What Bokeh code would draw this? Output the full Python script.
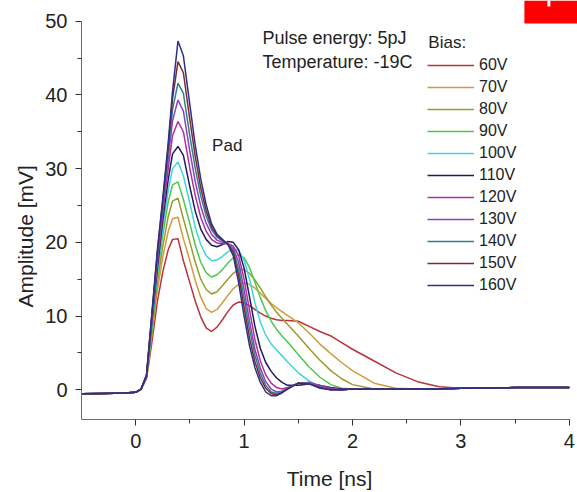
from bokeh.plotting import figure
from bokeh.models import Label, Legend, LegendItem, BoxAnnotation, Range1d, FixedTicker, Title
from bokeh.embed import file_html
from bokeh.resources import INLINE

# ---------------- data ----------------
time_ns = [-0.5, -0.3, -0.1, 0.0, 0.05, 0.1, 0.15, 0.2, 0.25, 0.3, 0.34, 0.39,
           0.44, 0.5, 0.55, 0.6, 0.65, 0.7, 0.75, 0.8, 0.85, 0.9,
           0.95, 1.0, 1.05, 1.1, 1.15, 1.2, 1.25, 1.3, 1.35, 1.4,
           1.5, 1.6, 1.7, 1.8, 1.9, 2.0, 2.2, 2.4, 2.6, 2.8, 3.0, 3.5, 4.0]

v60 = [-0.55, -0.5, -0.45, -0.35, 0.1, 1.5, 6.5, 12.0, 16.0, 19.0, 20.4, 20.5,
       17.5, 14.5, 12.0, 9.9, 8.4, 7.9, 8.5, 9.5, 10.6, 11.5,
       11.9, 11.8, 11.4, 10.9, 10.4, 10.0, 9.7, 9.5, 9.4, 9.4,
       9.3, 8.6, 7.9, 7.3, 6.4, 5.5, 3.9, 2.3, 1.1, 0.4, 0.2, 0.3, 0.3]
v70 = [-0.55, -0.5, -0.45, -0.35, 0.1, 1.6, 7.5, 13.5, 18.0, 21.5, 23.2, 23.4,
       20.5, 17.5, 14.8, 12.6, 11.0, 10.5, 10.9, 11.8, 12.8, 13.7,
       14.3, 14.5, 14.3, 13.8, 13.1, 12.4, 11.7, 11.1, 10.6, 10.1,
       9.1, 7.7, 6.2, 4.9, 3.7, 2.6, 0.9, 0.2, 0.1, 0.1, 0.2, 0.3, 0.3]
v80 = [-0.55, -0.5, -0.45, -0.35, 0.1, 1.7, 8.0, 14.5, 19.5, 23.5, 25.6, 26.0,
       23.2, 20.0, 17.3, 15.0, 13.6, 13.0, 13.3, 14.1, 15.0, 15.8,
       16.3, 16.3, 15.8, 14.9, 13.8, 12.6, 11.5, 10.5, 9.7, 8.9,
       7.3, 5.6, 4.0, 2.6, 1.5, 0.7, 0.1, 0.1, 0.1, 0.1, 0.2, 0.3, 0.3]
v90 = [-0.55, -0.5, -0.45, -0.35, 0.1, 1.7, 8.5, 15.5, 21.0, 25.5, 27.8, 28.2,
       25.8, 22.5, 19.6, 17.3, 15.9, 15.3, 15.6, 16.3, 17.2, 17.9,
       18.3, 17.9, 16.6, 14.6, 12.5, 10.7, 9.3, 8.2, 7.3, 6.5,
       4.8, 3.1, 1.7, 0.7, 0.2, 0.1, 0.1, 0.1, 0.1, 0.1, 0.2, 0.3, 0.3]
v100 = [-0.55, -0.5, -0.45, -0.35, 0.1, 1.8, 9.0, 16.0, 22.0, 27.0, 30.0, 30.9,
        29.0, 25.3, 22.0, 19.7, 18.2, 17.5, 17.6, 18.1, 18.7, 19.1,
        18.9, 17.6, 15.0, 11.8, 9.2, 7.4, 6.2, 5.4, 4.6, 3.8,
        2.3, 1.2, 0.4, 0.1, 0.0, 0.1, 0.1, 0.1, 0.1, 0.1, 0.2, 0.3, 0.3]
v110 = [-0.55, -0.5, -0.45, -0.35, 0.1, 1.8, 9.3, 16.5, 23.0, 28.5, 32.0, 33.0,
        31.8, 27.5, 24.2, 21.8, 20.4, 19.6, 19.4, 19.7, 20.1, 20.0,
        19.0, 16.5, 12.6, 8.6, 5.6, 3.7, 2.5, 1.6, 1.0, 0.6,
        0.6, 0.8, 0.6, 0.3, 0.1, 0.1, 0.1, 0.1, 0.1, 0.1, 0.2, 0.3, 0.3]
v120 = [-0.55, -0.5, -0.45, -0.35, 0.1, 1.9, 9.6, 17.2, 24.0, 30.0, 34.5, 36.4,
        35.0, 30.0, 26.3, 23.4, 21.5, 20.4, 19.9, 19.8, 19.8, 19.5,
        18.2, 15.0, 10.8, 6.8, 3.9, 2.0, 0.9, 0.3, 0.1, 0.3,
        0.9, 1.0, 0.6, 0.2, 0.0, 0.1, 0.1, 0.1, 0.1, 0.1, 0.2, 0.3, 0.3]
v130 = [-0.55, -0.5, -0.45, -0.35, 0.1, 1.9, 9.9, 17.8, 24.8, 31.3, 36.5, 39.3,
        37.8, 32.3, 28.2, 24.9, 22.6, 21.1, 20.3, 20.0, 19.8, 19.2,
        17.3, 13.6, 9.3, 5.5, 2.9, 1.1, 0.1, -0.3, -0.2, 0.2,
        0.9, 1.0, 0.5, 0.1, 0.0, 0.1, 0.1, 0.1, 0.1, 0.1, 0.2, 0.3, 0.3]
v140 = [-0.55, -0.5, -0.45, -0.35, 0.1, 2.0, 10.1, 18.2, 25.3, 32.2, 38.0, 41.6,
        40.2, 34.4, 30.0, 26.3, 23.6, 21.7, 20.7, 20.2, 19.8, 18.9,
        16.4, 12.4, 8.2, 4.7, 2.2, 0.6, -0.3, -0.5, -0.3, 0.2,
        0.9, 0.9, 0.4, 0.0, 0.0, 0.1, 0.1, 0.1, 0.1, 0.1, 0.2, 0.3, 0.3]
v150 = [-0.55, -0.5, -0.45, -0.35, 0.1, 2.0, 10.3, 18.6, 25.7, 33.0, 39.5, 44.5,
        43.0, 36.6, 31.6, 27.4, 24.3, 22.1, 20.9, 20.3, 19.8, 18.6,
        15.5, 11.2, 7.0, 3.8, 1.6, 0.2, -0.5, -0.7, -0.4, 0.1,
        0.9, 0.8, 0.3, 0.0, 0.0, 0.1, 0.1, 0.1, 0.1, 0.1, 0.2, 0.3, 0.3]
v160 = [-0.55, -0.5, -0.45, -0.35, 0.1, 2.0, 10.5, 19.0, 26.0, 33.5, 40.5, 47.3,
        45.3, 38.6, 33.1, 28.6, 25.1, 22.5, 21.1, 20.4, 19.7, 18.2,
        14.5, 10.0, 6.0, 3.0, 1.0, -0.3, -0.8, -0.8, -0.4, 0.1,
        0.9, 0.8, 0.2, 0.0, 0.0, 0.1, 0.1, 0.1, 0.1, 0.1, 0.2, 0.3, 0.3]

bias_labels = ["60V", "70V", "80V", "90V", "100V", "110V",
               "120V", "130V", "140V", "150V", "160V"]
series = [v60, v70, v80, v90, v100, v110, v120, v130, v140, v150, v160]
colors = ["#b8343c", "#d39a3c", "#9c9a2c", "#4cc84c", "#3fd5e0", "#1c1c5e",
          "#b2309a", "#8a40c4", "#2f8088", "#7c2a2e", "#2e2e8c"]

x_ticks = [0, 1, 2, 3, 4]
x_minor = [0.5, 1.5, 2.5, 3.5]
y_ticks = [0, 10, 20, 30, 40, 50]
y_minor = [5, 15, 25, 35, 45]

FONT = "Liberation Sans"

# ---------------- figure ----------------
p = figure(width=577, height=492, output_backend="svg", toolbar_location=None,
           x_range=Range1d(-0.5, 4.076), y_range=Range1d(-4.03, 52.8),
           min_border_left=81, min_border_right=0, min_border_top=0,
           min_border_bottom=73)
p.outline_line_color = None
p.grid.visible = False
p.background_fill_color = "white"
p.border_fill_color = "white"

for ax in (p.xaxis[0], p.yaxis[0]):
    ax.axis_line_color = "#6a6a6a"
    ax.major_tick_line_color = "#333333"
    ax.minor_tick_line_color = "#333333"
    ax.major_tick_in = 0
    ax.major_tick_out = 6
    ax.minor_tick_in = 0
    ax.minor_tick_out = 4
    ax.major_label_text_font = FONT
    ax.major_label_text_font_size = "20px"
    ax.major_label_text_color = "#222222"
    ax.major_label_standoff = 8
    ax.axis_label_text_font = FONT
    ax.axis_label_text_font_size = "21px"
    ax.axis_label_text_font_style = "normal"
    ax.axis_label_text_color = "#222222"

p.xaxis.bounds = (-0.5, 4)
p.xaxis.ticker = FixedTicker(ticks=x_ticks, minor_ticks=x_minor)
p.xaxis.axis_label = "Time [ns]"
p.xaxis.axis_label_standoff = 16
p.yaxis.bounds = (-4.03, 50)
p.yaxis.ticker = FixedTicker(ticks=y_ticks, minor_ticks=y_minor)

# y axis title as a side title so that it can be shifted along the axis
p.add_layout(Title(text="Amplitude [mV]", align="left", offset=112,
                   text_font=FONT, text_font_size="21px", text_font_style="normal",
                   text_color="#222222", standoff=12), "left")

items = []
for lab, ys, c in zip(bias_labels, series, colors):
    r = p.line(time_ns, ys, line_color=c, line_width=1.5)
    items.append(LegendItem(label=lab, renderers=[r]))

legend = Legend(items=items, location=(346, 123), glyph_width=47, glyph_height=22,
                label_height=22, spacing=0, padding=0, margin=0, label_standoff=5,
                label_text_font=FONT, label_text_font_size="16px",
                label_text_color="#222222",
                border_line_alpha=0, background_fill_alpha=0)
p.add_layout(legend)

for txt, xx, yy, fs in [("Pulse energy: 5pJ", 1.169, 47.65, "18px"),
                        ("Temperature: -19C", 1.169, 44.5, "18px"),
                        ("Pad", 0.705, 33.1, "17px"),
                        ("Bias:", 2.70, 47.1, "17px")]:
    p.add_layout(Label(x=xx, y=yy, text=txt, text_align="left",
                       text_baseline="middle", text_font=FONT,
                       text_font_size=fs, text_color="#222222"))

# red marker box in the top right corner of the picture
p.add_layout(BoxAnnotation(left=3.586, right=4.076, bottom=49.68, top=52.8,
                           fill_color="#ff0000", fill_alpha=1.0, line_color=None))
p.add_layout(BoxAnnotation(left=3.798, right=3.826, bottom=52.0, top=52.8,
                           fill_color="#ffffff", fill_alpha=1.0, line_color=None))

open("out.html", "w").write(file_html(p, INLINE))
